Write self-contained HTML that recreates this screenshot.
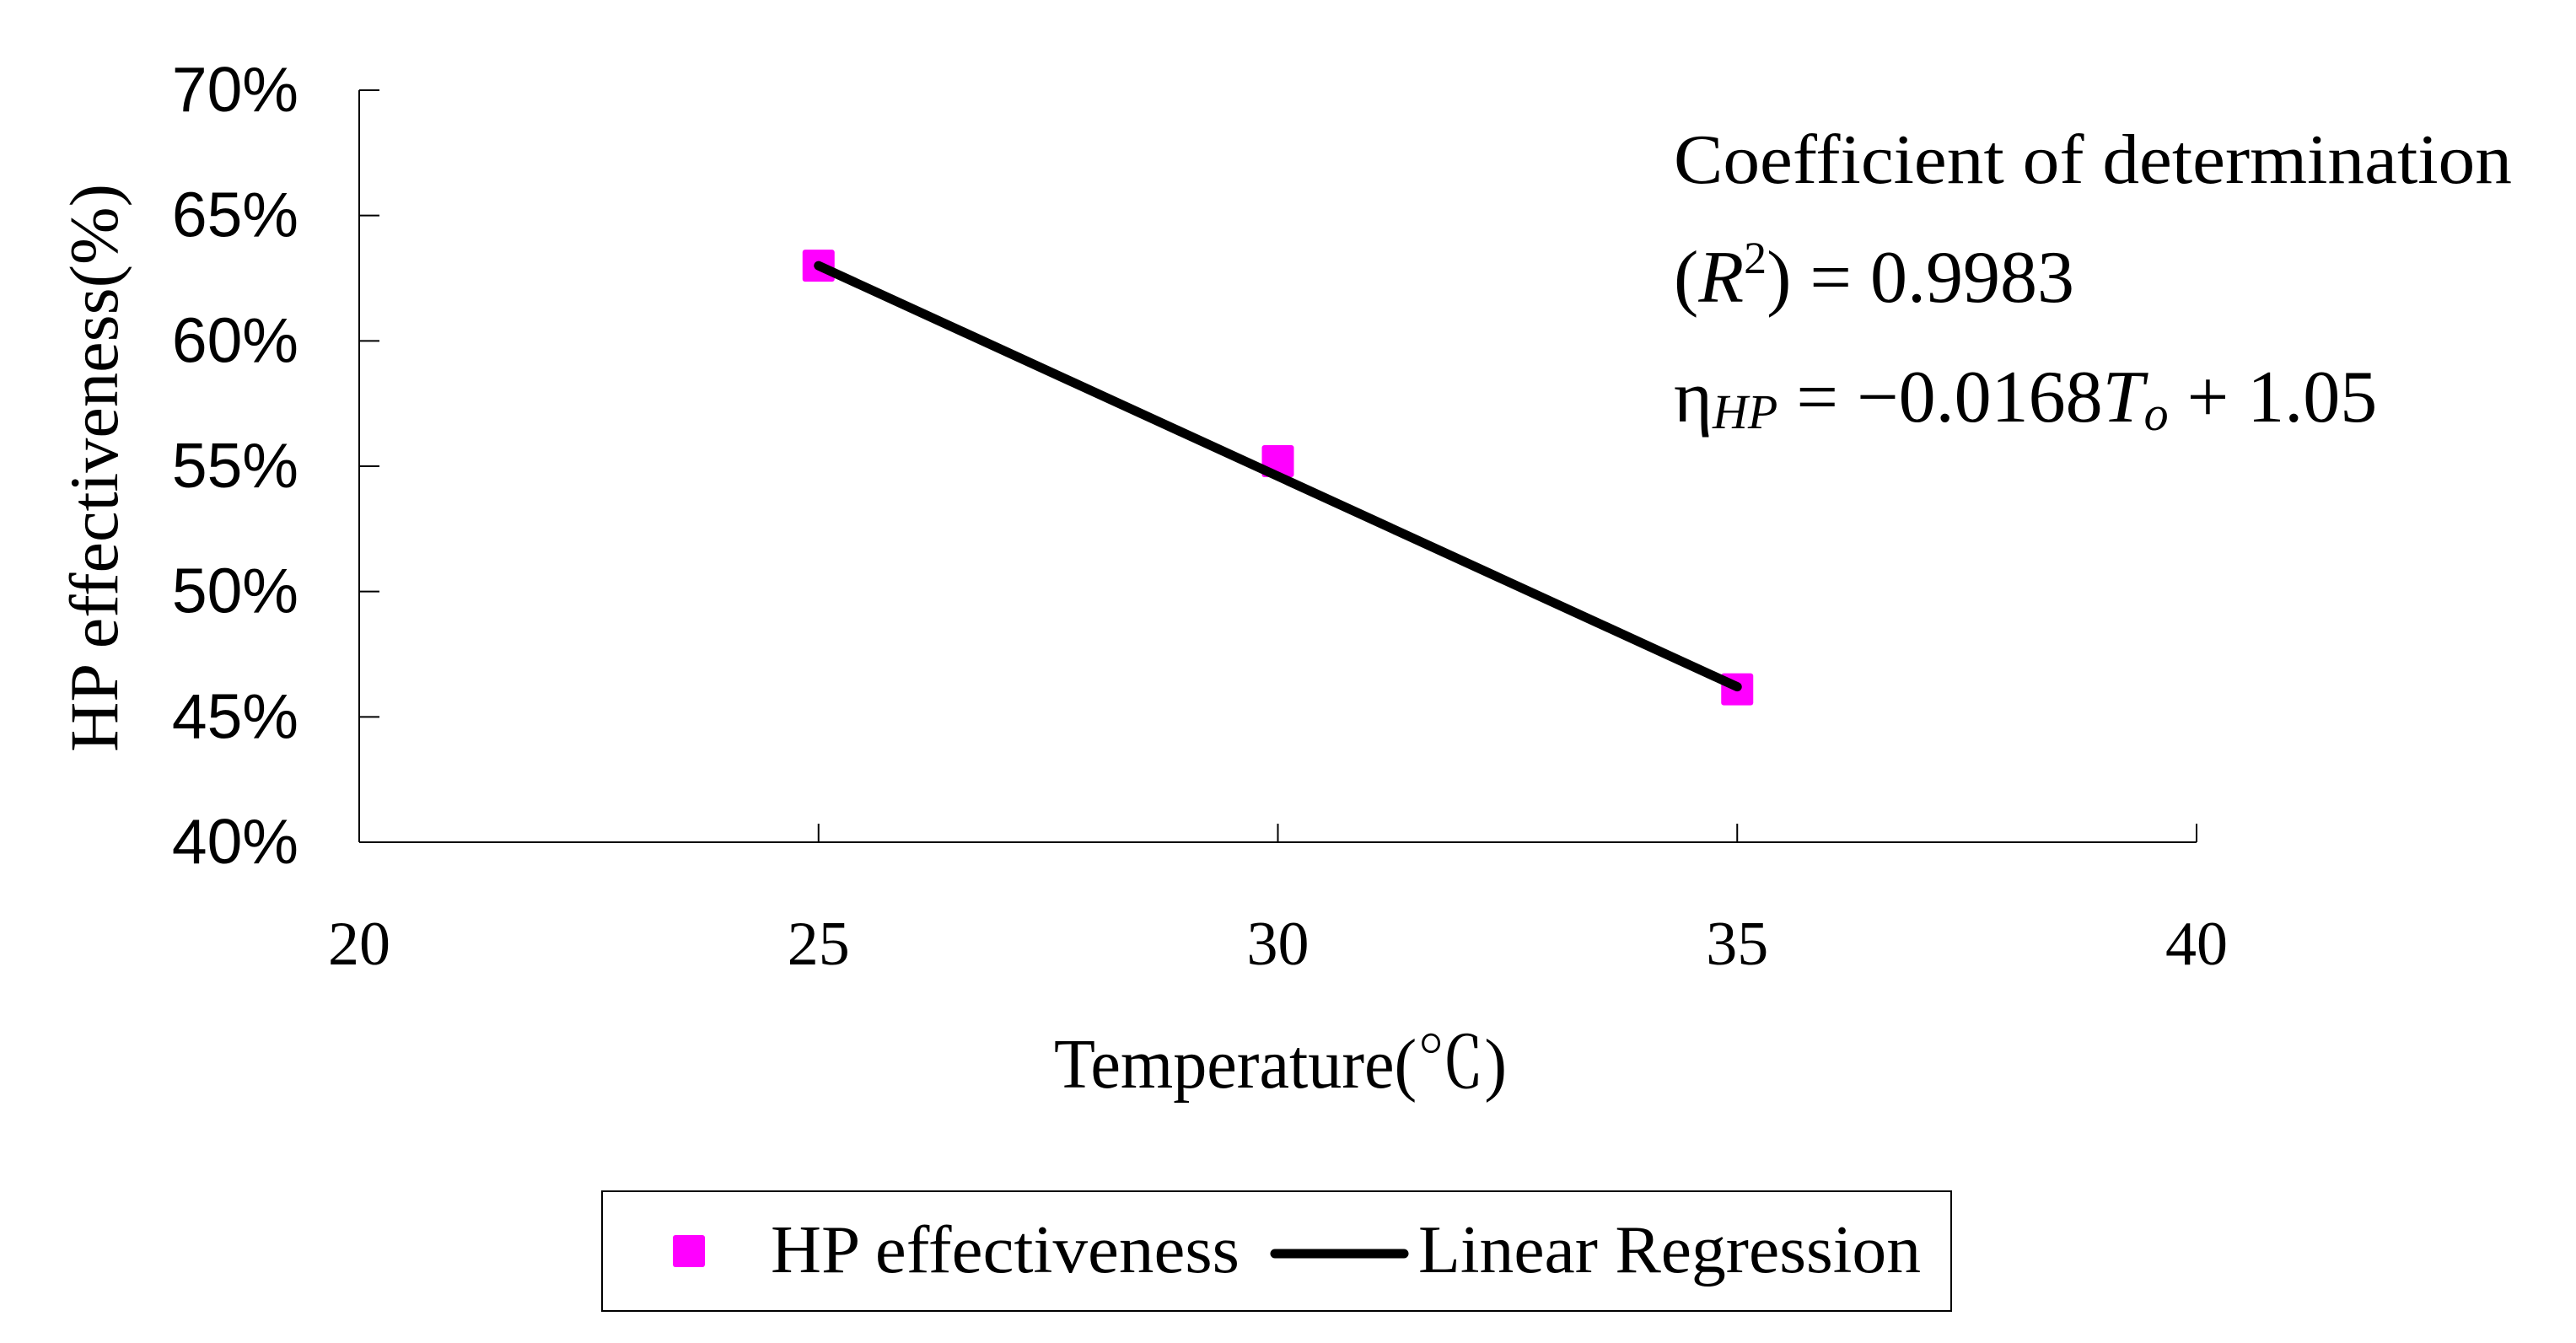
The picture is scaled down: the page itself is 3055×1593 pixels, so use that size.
<!DOCTYPE html>
<html><head><meta charset="utf-8"><style>
html,body{margin:0;padding:0;background:#fff;}
svg{display:block;}
.serif{font-family:"Liberation Serif","Noto Serif CJK SC",serif;}
.sans{font-family:"Liberation Sans",sans-serif;}
</style></head><body>
<svg id="chart" width="3055" height="1593" viewBox="0 0 3055 1593" xmlns="http://www.w3.org/2000/svg">
<rect x="0" y="0" width="3055" height="1593" fill="#fff"/>
<g id="axes"></g>
<g id="marks"></g>
<text class="serif" transform="translate(139,555) rotate(-90)" text-anchor="middle" font-size="82" textLength="674" lengthAdjust="spacingAndGlyphs">HP effectiveness(%)</text>
<text class="serif" x="1250" y="1290" font-size="84" textLength="537" lengthAdjust="spacingAndGlyphs">Temperature(℃)</text>
<g class="serif" font-size="84">
<text x="1985" y="217" textLength="994" lengthAdjust="spacingAndGlyphs">Coefficient of determination</text>
<text x="1985" y="358" font-size="88">(<tspan font-style="italic">R</tspan><tspan font-size="54" dy="-34">2</tspan><tspan dy="34">) = 0.9983</tspan></text>
<text x="1985" y="500" font-size="88">η<tspan font-style="italic" font-size="58" dy="8">HP</tspan><tspan dy="-8"> = −0.0168</tspan><tspan font-style="italic">T</tspan><tspan font-style="italic" font-size="58" dy="10">o</tspan><tspan dy="-10"> + 1.05</tspan></text>
</g>
<g>
<rect x="714" y="1413" width="1600" height="142" fill="#fff" stroke="#000" stroke-width="2"/>
<rect x="798" y="1465" width="38" height="38" rx="3" fill="#ff00ff"/>
<text class="serif" x="914" y="1509" font-size="80" textLength="556" lengthAdjust="spacingAndGlyphs">HP effectiveness</text>
<line x1="1512" y1="1487" x2="1665" y2="1487" stroke="#000" stroke-width="11" stroke-linecap="round"/>
<text class="serif" x="1682" y="1509" font-size="80" textLength="596" lengthAdjust="spacingAndGlyphs">Linear Regression</text>
</g>
</svg>
<script>
const xTicks = [20, 25, 30, 35, 40];
const yTicks = [0.40, 0.45, 0.50, 0.55, 0.60, 0.65, 0.70];
const yTickLabels = ["40%", "45%", "50%", "55%", "60%", "65%", "70%"];
const tempX = [25, 30, 35];
const hpEff = [0.630, 0.552, 0.461];
const regSlope = -0.0168;
const regIntercept = 1.05;
const regRange = [25, 35];

const NS = "http://www.w3.org/2000/svg";
const X0 = 426, X1 = 2605, Y0 = 999, Y1 = 107;
function sx(v){ return X0 + (v - 20) / 20 * (X1 - X0); }
function sy(v){ return Y0 - (v - 0.40) / 0.30 * (Y0 - Y1); }
function mk(tag, attrs, parent){
  const e = document.createElementNS(NS, tag);
  for (const k in attrs) e.setAttribute(k, attrs[k]);
  parent.appendChild(e);
  return e;
}
const axes = document.getElementById('axes');
const marks = document.getElementById('marks');

const yAxis = mk('line', {x1:X0, y1:Y1, x2:X0, y2:Y0, stroke:'#000', 'stroke-width':2}, axes);


const xAxis = mk('line', {x1:X0, y1:Y0, x2:X1, y2:Y0, stroke:'#000', 'stroke-width':2}, axes);



yTicks.forEach((v, i) => {
  const y = sy(v);
  const t = mk('line', {x1:X0, y1:y, x2:X0 + 24, y2:y, stroke:'#000', 'stroke-width':2}, axes);
  
  
  const l = mk('text', {x:354, y:y + 25, 'text-anchor':'end', 'class':'sans', 'font-size':75}, axes);
  l.textContent = yTickLabels[i];
  
  
});
xTicks.forEach(v => {
  const x = sx(v);
  const t = mk('line', {x1:x, y1:Y0, x2:x, y2:Y0 - 22, stroke:'#000', 'stroke-width':2}, axes);
  
  
  const l = mk('text', {x:x, y:1144, 'text-anchor':'middle', 'class':'serif', 'font-size':74}, axes);
  l.textContent = String(v);
  
  
});

tempX.forEach((t, i) => {
  const m = mk('rect', {x:sx(t) - 19, y:sy(hpEff[i]) - 19, width:38, height:38, rx:3, fill:'#ff00ff'}, marks);
  
  
});
const rl = mk('line', {
  x1:sx(regRange[0]), y1:sy(regSlope * regRange[0] + regIntercept),
  x2:sx(regRange[1]), y2:sy(regSlope * regRange[1] + regIntercept),
  stroke:'#000', 'stroke-width':11, 'stroke-linecap':'round'}, marks);


</script>
</body></html>
